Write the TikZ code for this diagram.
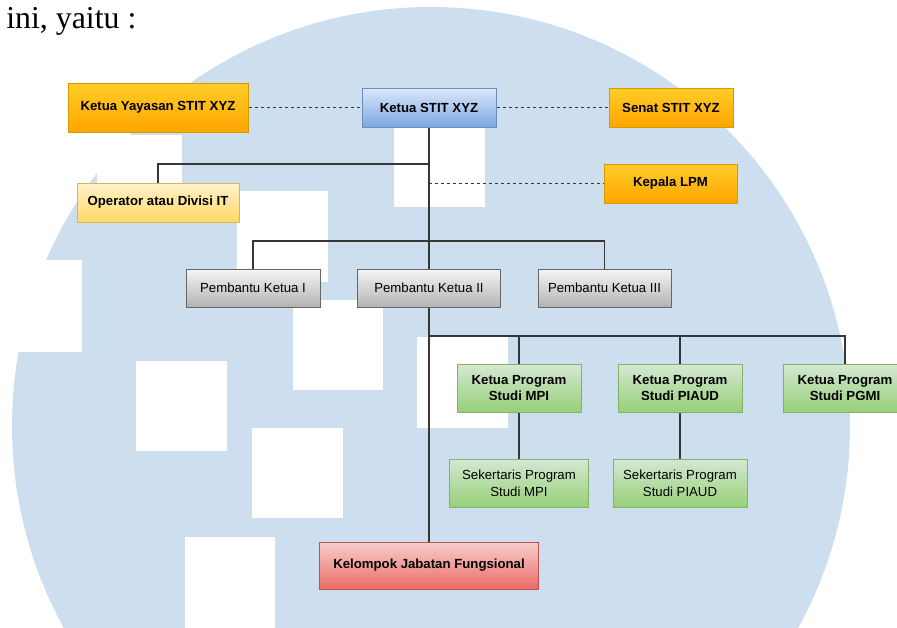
\documentclass[tikz,border=0pt]{standalone}
\usepackage{fontspec}
\setmainfont{Liberation Sans}
\newfontfamily\serifx{Liberation Serif}
\usetikzlibrary{calc}
\pgfdeclarelayer{back}
\pgfdeclarelayer{lines}
\pgfsetlayers{back,lines,main}
\definecolor{wm}{RGB}{205,223,238}
\definecolor{orT}{HTML}{FFCD28}\definecolor{orB}{HTML}{FFA500}\definecolor{orD}{HTML}{D79B00}
\definecolor{blT}{HTML}{DAE8FC}\definecolor{blB}{HTML}{7EA6E0}\definecolor{blD}{HTML}{6C8EBF}
\definecolor{yeT}{HTML}{FFF2CC}\definecolor{yeB}{HTML}{FFD966}\definecolor{yeD}{HTML}{D6B656}
\definecolor{grT}{HTML}{F5F5F5}\definecolor{grB}{HTML}{B3B3B3}\definecolor{grD}{HTML}{666666}
\definecolor{gnT}{HTML}{D5E8D4}\definecolor{gnB}{HTML}{97D077}\definecolor{gnD}{HTML}{82B366}
\definecolor{rdT}{HTML}{F8CECC}\definecolor{rdB}{HTML}{EA6B66}\definecolor{rdD}{HTML}{B85450}
\definecolor{lnc}{RGB}{55,55,55}
\begin{document}
\begin{tikzpicture}[x=0.75pt,y=-0.75pt,
  wh/.style 2 args={minimum width=#1*0.75pt, minimum height=#2*0.75pt},
  box/.style={rectangle, inner sep=0pt, line width=0.75pt, align=center,
    font=\fontsize{9.9pt}{12.5pt}\selectfont},
  orbox/.style={box, top color=orT, bottom color=orB, draw=orD, font=\fontsize{9.9pt}{12.5pt}\selectfont\bfseries},
  blbox/.style={box, top color=blT, bottom color=blB, draw=blD, font=\fontsize{9.9pt}{12.5pt}\selectfont\bfseries},
  yebox/.style={box, top color=yeT, bottom color=yeB, draw=yeD, font=\fontsize{9.9pt}{12.5pt}\selectfont\bfseries},
  grbox/.style={box, top color=grT, bottom color=grB, draw=grD},
  gnbox/.style={box, top color=gnT, bottom color=gnB, draw=gnD},
  gnboldbox/.style={gnbox, font=\fontsize{9.9pt}{12.5pt}\selectfont\bfseries},
  rdbox/.style={box, top color=rdT, bottom color=rdB, draw=rdD, font=\fontsize{9.9pt}{12.5pt}\selectfont\bfseries},
  conn/.style={draw=lnc, line width=0.9pt},
  dconn/.style={draw=lnc, line width=0.7pt, dash pattern=on 2.25pt off 2.25pt}
]
\path[use as bounding box] (0,0) rectangle (897,628);
\clip (0,0) rectangle (897,628);
\begin{pgfonlayer}{back}
  \fill[wm] (431,426) circle[radius=314.25pt];
  \fill[white] (97,135) rectangle (182,215);
  \fill[white] (-10,260) rectangle (82,352);
  \fill[white] (136,361) rectangle (227,451);
  \fill[white] (237,191) rectangle (328,282);
  \fill[white] (394,116) rectangle (485,207);
  \fill[white] (293,300) rectangle (383,390);
  \fill[white] (417,337) rectangle (508,428);
  \fill[white] (252,428) rectangle (343,518);
  \fill[white] (185,537) rectangle (275,640);
\end{pgfonlayer}

\node[anchor=base west, inner sep=0pt, font=\serifx\fontsize{23.9pt}{28pt}\selectfont] (intro) at (6,28) {ini, yaitu :};

\node[orbox, wh={180}{49}] (yay) at (158,107.5) {Ketua Yayasan STIT XYZ};
\node[blbox, wh={134}{39}] (ketua) at (429,107.5) {Ketua STIT XYZ};
\node[orbox, wh={124}{39}] (senat) at (671,107.5) {Senat STIT XYZ};
\node[orbox, wh={133}{39}] (lpm) at (670.5,183.5) {Kepala LPM};
\node[yebox, wh={162}{39}] (op) at (158,202.5) {Operator atau Divisi IT};

\node[grbox, wh={134}{38}] (pk1) at (253,288) {Pembantu Ketua I};
\node[grbox, wh={143}{38}] (pk2) at (429,288) {Pembantu Ketua II};
\node[grbox, wh={133}{38}] (pk3) at (604.5,288) {Pembantu Ketua III};

\node[gnboldbox, wh={124}{48}] (kmpi) at (519,388) {Ketua Program\\Studi MPI};
\node[gnboldbox, wh={124}{48}] (kpiaud) at (680,388) {Ketua Program\\Studi PIAUD};
\node[gnboldbox, wh={124}{48}] (kpgmi) at (845,388) {Ketua Program\\Studi PGMI};

\node[gnbox, wh={139}{48}] (smpi) at (519,483) {Sekertaris Program\\Studi MPI};
\node[gnbox, wh={134}{48}] (spiaud) at (680,483) {Sekertaris Program\\Studi PIAUD};

\node[rdbox, wh={219}{47}] (kjf) at (429,565.5) {Kelompok Jabatan Fungsional};

\coordinate (j1) at (429,164);
\coordinate (j2) at (429,183.5);
\coordinate (j3) at (429,241);
\coordinate (j4) at (429,336);

\begin{pgfonlayer}{lines}
  \draw[dconn] (yay.east) -- (ketua.west);
  \draw[dconn] (ketua.east) -- (senat.west);
  \draw[conn] (ketua.south) -- (kjf.north);
  \draw[conn] (op.north) |- (j1);
  \draw[dconn] (j2) -- (lpm.west);
  \draw[conn] (pk1.north) |- (j3) -| (pk3.north);
  \draw[conn] (j4) -| (kpgmi.north);
  \draw[conn] (kmpi.north) -- (kmpi.north |- j4);
  \draw[conn] (kpiaud.north) -- (kpiaud.north |- j4);
  \draw[conn] (kmpi.south) -- (smpi.north);
  \draw[conn] (kpiaud.south) -- (spiaud.north);
\end{pgfonlayer}
\end{tikzpicture}
\end{document}
